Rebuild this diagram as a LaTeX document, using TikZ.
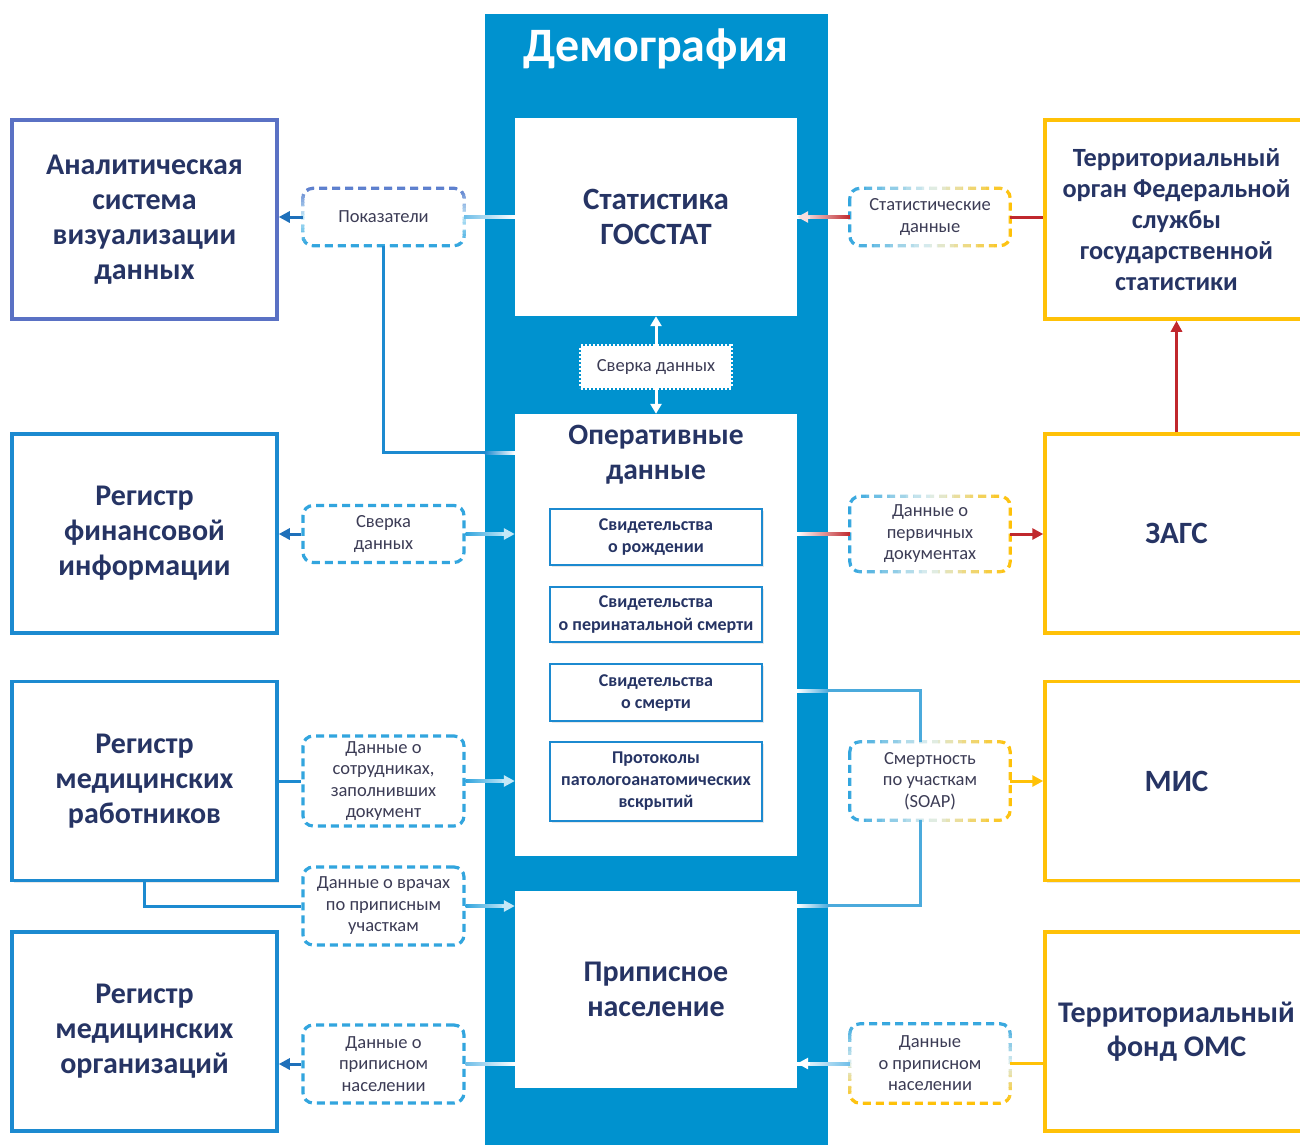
\documentclass[tikz,border=0pt]{standalone}
\usepackage{fontspec}
\setmainfont{Carlito}
\usetikzlibrary{arrows.meta,calc,shadows}
\definecolor{bandc}{RGB}{0,146,207}
\definecolor{navy}{RGB}{38,52,100}
\definecolor{peri}{RGB}{90,113,196}
\definecolor{bbord}{RGB}{28,138,208}
\definecolor{yel}{RGB}{255,193,7}
\definecolor{dashblue}{RGB}{50,165,222}
\definecolor{labtxt}{RGB}{60,60,85}
\definecolor{redc}{RGB}{192,40,45}
\definecolor{darkb}{RGB}{30,112,186}
\definecolor{palec}{RGB}{222,238,238}
\definecolor{paleb}{RGB}{196,232,247}
\definecolor{lineb}{RGB}{110,190,232}
\definecolor{soapc}{RGB}{75,170,220}
\definecolor{perilt}{RGB}{91,125,205}
\definecolor{palepink}{RGB}{248,222,222}

\newcommand\hgrad[4]{\shade[left color=#3,right color=#4] ($(#1)+(0,-1.5)$) rectangle ($(#2)+(0,1.5)$);}

\newcommand\gradh[4]{%
  \foreach \k in {0,...,23}{%
    \pgfmathsetmacro\ta{-0.1+1.2*\k/24}%
    \pgfmathsetmacro\tb{-0.1+1.2*(\k+1)/24+0.002}%
    \pgfmathsetmacro\tc{max(0,min(1,(\ta+\tb)/2))}%
    \ifdim\tc pt<0.5pt
      \pgfmathtruncatemacro\pp{200*\tc}%
      \colorlet{tmpc}{#3!\pp!#2}%
    \else
      \pgfmathtruncatemacro\pp{200*\tc-100}%
      \colorlet{tmpc}{#4!\pp!#3}%
    \fi
    \begin{scope}
      \clip ($(#1.north west)!\ta!(#1.north east)+(0,-12)$) rectangle ($(#1.south west)!\tb!(#1.south east)+(0,12)$);
      \draw[dashbox,draw=tmpc] (#1.north west) rectangle (#1.south east);
    \end{scope}
  }%
}
\newcommand\gradv[4]{%
  \foreach \k in {0,...,23}{%
    \pgfmathsetmacro\ta{-0.1+1.2*\k/24}%
    \pgfmathsetmacro\tb{-0.1+1.2*(\k+1)/24+0.002}%
    \pgfmathsetmacro\tc{max(0,min(1,(\ta+\tb)/2))}%
    \ifdim\tc pt<0.5pt
      \pgfmathtruncatemacro\pp{200*\tc}%
      \colorlet{tmpc}{#3!\pp!#2}%
    \else
      \pgfmathtruncatemacro\pp{200*\tc-100}%
      \colorlet{tmpc}{#4!\pp!#3}%
    \fi
    \begin{scope}
      \clip ($(#1.north west)!\ta!(#1.south west)+(-12,0)$) rectangle ($(#1.north east)!\tb!(#1.south east)+(12,0)$);
      \draw[dashbox,draw=tmpc] (#1.north west) rectangle (#1.south east);
    \end{scope}
  }%
}

\begin{document}
\begin{tikzpicture}[x=1pt,y=-1pt,
  shad/.style={drop shadow={opacity=0.18,shadow xshift=2pt,shadow yshift=-2pt}},
  bigbox/.style={draw=bbord,line width=3.5pt,fill=white,minimum width=265pt,minimum height=199pt,inner sep=0pt,align=center,text=navy,font=\fontsize{30}{35}\selectfont\bfseries,shad},
  rbox/.style={bigbox,draw=yel,minimum width=263pt},
  cbox/.style={fill=white,minimum width=282pt,inner sep=0pt,align=center,text=navy,font=\fontsize{30}{35}\selectfont\bfseries},
  ctext/.style={inner sep=0pt,align=center,text=navy,font=\fontsize{29.5}{35}\selectfont\bfseries},
  inbox/.style={draw=bbord,line width=2.5pt,fill=white,minimum width=212pt,inner sep=0pt,align=center,text=navy,font=\fontsize{18}{22}\selectfont\bfseries,shad},
  dashbox/.style={line width=3.2pt,dash pattern=on 8pt off 5pt,rounded corners=10pt},
  lab/.style={inner sep=0pt,align=center,text=labtxt,font=\fontsize{18.5}{21.5}\selectfont,minimum width=161pt},
  labd/.style={lab,draw=dashblue,dashbox},
  stampbox/.style={fill=white,draw=white,line width=4pt,dash pattern=on 2pt off 2pt,minimum width=150pt,minimum height=42pt,inner sep=0pt,text=labtxt,font=\fontsize{18.5}{21.5}\selectfont},
  cn/.style={line width=3pt},
  arr/.style={cn,-{Triangle[length=11pt,width=11pt]}}
]
\useasboundingbox (0,0) rectangle (1300,1144);
\clip (0,0) rectangle (1300,1144);
\fill[white] (0,0) rectangle (1300,1144);

% central band
\node[fill=bandc,inner sep=0pt,minimum width=343pt,minimum height=1140pt,anchor=north] (band) at (656.5,14) {};
\node[text=white,font=\fontsize{48}{52}\selectfont\bfseries,inner sep=0pt] (title) at (656,49) {Демография};

\node[cbox,minimum height=198pt,font=\fontsize{31}{35}\selectfont\bfseries] (stat) at (656,217) {Статистика\\ГОССТАТ};
\node[cbox,minimum height=442pt] (oper) at (656,635) {};
\node[ctext] (opert) at (656,455) {Оперативные\\данные};
\node[inbox,minimum height=56pt] (b1) at (656,537) {Свидетельства\\о рождении};
\node[inbox,minimum height=55pt] (b2) at (656,614.5) {Свидетельства\\о перинатальной смерти};
\node[inbox,minimum height=57pt] (b3) at (656,692.5) {Свидетельства\\о смерти};
\node[inbox,minimum height=79pt] (b4) at (656,781.5) {Протоколы\\патологоанатомических\\вскрытий};
\node[cbox,minimum height=197pt] (prip) at (656,989.5) {Приписное\\население};

\draw[white,line width=3pt,{Triangle[length=10pt,width=11pt]}-{Triangle[length=10pt,width=11pt]}] (stat.south) -- (oper.north);
\node[stampbox] (svs) at (656,367) {Сверка данных};

% left boxes
\node[bigbox,draw=peri] (an) at (144.5,219.5) {Аналитическая\\система\\визуализации\\данных};
\node[bigbox] (fin) at (144.5,533.5) {Регистр\\финансовой\\информации};
\node[bigbox] (medr) at (144.5,781) {Регистр\\медицинских\\работников};
\node[bigbox] (medo) at (144.5,1031.5) {Регистр\\медицинских\\организаций};

% right boxes
\node[rbox,font=\fontsize{26.3}{31}\selectfont\bfseries] (tog) at (1176.5,219.5) {Территориальный\\орган Федеральной\\службы\\государственной\\статистики};
\node[rbox,font=\fontsize{31}{35}\selectfont\bfseries] (zags) at (1176.5,533.5) {ЗАГС};
\node[rbox,font=\fontsize{31}{35}\selectfont\bfseries] (mis) at (1176.5,781) {МИС};
\node[rbox,font=\fontsize{30}{34}\selectfont\bfseries] (tfoms) at (1176.5,1031.5) {Территориальный\\фонд ОМС};

% dashed labels, left
\node[lab,minimum height=57pt] (pok) at (383.5,217) {Показатели};
\gradv{pok}{perilt}{paleb}{dashblue}
\node[labd,minimum height=57pt] (sv) at (383.5,534) {Сверка\\данных};
\node[labd,minimum height=90pt] (sotr) at (383.5,781) {Данные о\\сотрудниках,\\заполнивших\\документ};
\node[labd,minimum height=78pt] (vrach) at (383.5,906) {Данные о врачах\\по приписным\\участкам};
\node[labd,minimum height=78pt] (dpn) at (383.5,1064) {Данные о\\приписном\\населении};

% dashed labels, right
\node[lab,minimum width=160pt,minimum height=57pt] (statd) at (930,217) {Статистические\\данные};
\gradh{statd}{dashblue}{palec}{yel}
\node[lab,minimum width=160pt,minimum height=75pt] (prim) at (930,534) {Данные о\\первичных\\документах};
\gradh{prim}{dashblue}{palec}{yel}
\node[lab,minimum width=160pt,minimum height=78pt] (soap) at (930,781) {Смертность\\по участкам\\(SOAP)};
\gradh{soap}{dashblue}{palec}{yel}
\node[lab,minimum width=160pt,minimum height=79pt] (dpr) at (930,1063.5) {Данные\\о приписном\\населении};
\gradv{dpr}{dashblue}{palec}{yel}

% connectors: row 1
\draw[arr,darkb] (pok.west) -- (pok.west -| an.east);
\hgrad{pok.east}{pok.east -| stat.west}{lineb}{white}
\coordinate (k1) at ($(oper.north west)+(0,39)$);
\draw[cn,bbord] (pok.south) |- (band.west |- k1);
\hgrad{band.west |- k1}{k1}{bbord}{white}
\hgrad{statd.west -| stat.east}{statd.west}{white}{redc}
\draw[arr,palepink] ($(statd.west -| stat.east)+(13,0)$) -- (statd.west -| stat.east);
\draw[cn,redc] (statd.east) -- (statd.east -| tog.west);
\draw[arr,redc] (zags.north) -- (tog.south);

% row 2
\draw[arr,darkb] (sv.west) -- (sv.west -| fin.east);
\hgrad{sv.east}{$(sv.east -| oper.west)+(-9,0)$}{dashblue}{paleb}
\draw[arr,paleb] ($(sv.east -| oper.west)+(-13,0)$) -- (sv.east -| oper.west);
\hgrad{prim.west -| oper.east}{prim.west}{white}{redc}
\draw[arr,redc] (prim.east) -- (prim.east -| zags.west);

% row 3
\draw[cn,bbord] (sotr.west -| medr.east) -- (sotr.west);
\hgrad{sotr.east}{$(sotr.east -| oper.west)+(-9,0)$}{dashblue}{paleb}
\draw[arr,paleb] ($(sotr.east -| oper.west)+(-13,0)$) -- (sotr.east -| oper.west);
\coordinate (k2) at ($(oper.north east)+(0,277)$);
\coordinate (s1) at ($(soap.north)+(-10,0)$);
\coordinate (s2) at ($(soap.south)+(-10,0)$);
\draw[cn,soapc] (band.east |- k2) -| (s1);
\hgrad{k2}{band.east |- k2}{white}{soapc}
\draw[arr,yel] (soap.east) -- (soap.east -| mis.west);

% row 4
\draw[cn,bbord] (medr.south) |- (vrach.west);
\hgrad{vrach.east}{$(vrach.east -| prip.west)+(-9,0)$}{dashblue}{paleb}
\draw[arr,paleb] ($(vrach.east -| prip.west)+(-13,0)$) -- (vrach.east -| prip.west);
\coordinate (k3) at ($(prip.north east)+(0,15)$);
\draw[cn,soapc] (band.east |- k3) -| (s2);
\hgrad{k3}{band.east |- k3}{white}{soapc}

% row 5
\draw[arr,darkb] (dpn.west) -- (dpn.west -| medo.east);
\hgrad{dpn.east}{dpn.east -| prip.west}{lineb}{white}
\hgrad{dpr.west -| prip.east}{dpr.west}{white}{lineb}
\draw[arr,white] ($(dpr.west -| prip.east)+(13,0)$) -- (dpr.west -| prip.east);
\draw[cn,yel] (dpr.east) -- (dpr.east -| tfoms.west);
\end{tikzpicture}
\end{document}
